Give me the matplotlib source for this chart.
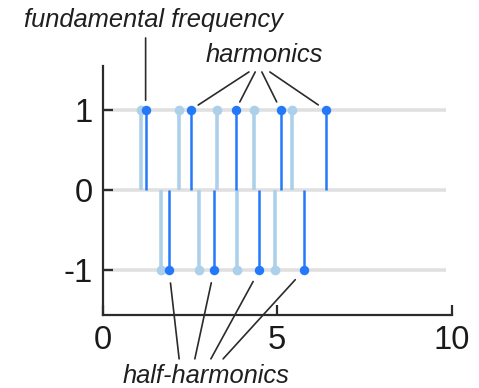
import matplotlib
matplotlib.use("Agg")
import matplotlib.pyplot as plt

# Frequencies of two overlaid tones (light = lower pitch, dark = higher pitch)
light_harmonics = [1.11, 2.19, 3.27, 4.34, 5.43]
dark_harmonics = [1.23, 2.52, 3.81, 5.10, 6.39]
light_half = [1.66, 2.76, 3.86, 4.94]
dark_half = [1.90, 3.19, 4.49, 5.77]

row_levels = [1, 0, -1]
x_ticks = [0, 5, 10]
y_ticks = [-1, 0, 1]

LIGHT = "#acd0ea"
DARK = "#2479fb"
GRAY = "#e0e0e0"
INK = "#2b2b2b"

plt.rcParams["font.family"] = ["Liberation Sans", "DejaVu Sans"]
plt.rcParams["axes.unicode_minus"] = False

fig = plt.figure(figsize=(4.79, 3.88), dpi=100)
ax = fig.add_axes([0.2144, 0.188, 0.7286, 0.642])

# grey reference rows
ax.hlines(row_levels, 0, 9.85, color=GRAY, lw=2.6, zorder=1)


def draw_stems(xs, level, color, lw, ms, z):
    ax.vlines(xs, 0, level, color=color, lw=lw, zorder=z)
    ax.plot(xs, [level] * len(xs), "o", color=color, ms=ms, mec="none", zorder=z + 0.5)


draw_stems(light_harmonics, 1, LIGHT, 2.6, 7, 2)
draw_stems(light_half, -1, LIGHT, 2.6, 7, 2)
draw_stems(dark_harmonics, 1, DARK, 1.8, 6.8, 4)
draw_stems(dark_half, -1, DARK, 1.8, 6.8, 4)

ax.set_xlim(0, 10)
ax.set_ylim(-1.5625, 1.55)
ax.set_xticks(x_ticks)
ax.set_yticks(y_ticks)
ax.spines["top"].set_visible(False)
ax.spines["right"].set_visible(False)
for s in ("left", "bottom"):
    ax.spines[s].set_color(INK)
    ax.spines[s].set_linewidth(1.6)
ax.tick_params(direction="in", length=7, width=1.6, color=INK,
               labelsize=23.5, labelcolor="#1a1a1a", pad=7)

line_kw = dict(arrowstyle="-", color=INK, lw=1.2, shrinkA=0)
ann_kw = dict(xycoords="data", textcoords="data", annotation_clip=False)

# fundamental frequency pointer
ax.annotate("", xy=(dark_harmonics[0], 1), xytext=(dark_harmonics[0], 1.9),
            arrowprops=dict(shrinkB=7, **line_kw), **ann_kw)
ax.text(1.465, 2.0375, "fundamental frequency", style="italic", fontsize=18.4,
        color="#1f1f1f", ha="center", va="baseline", clip_on=False)

# harmonics pointers
harm_tops = [4.19, 4.37, 4.56, 4.79]
for x, xt in zip(dark_harmonics[1:], harm_tops):
    ax.annotate("", xy=(x, 1), xytext=(xt, 1.475),
                arrowprops=dict(shrinkB=6.5, **line_kw), **ann_kw)
ax.text(4.62, 1.60, "harmonics", style="italic", fontsize=18.4,
        color="#1f1f1f", ha="center", va="baseline", clip_on=False)

# half-harmonics pointers
half_ends = [2.19, 2.64, 3.10, 3.45]
for x, xe in zip(dark_half, half_ends):
    ax.annotate("", xy=(x, -1), xytext=(xe, -2.11),
                arrowprops=dict(shrinkB=9.4, **line_kw), **ann_kw)
ax.text(2.96, -2.41, "half-harmonics", style="italic", fontsize=18.4,
        color="#1f1f1f", ha="center", va="baseline", clip_on=False)

fig.savefig("out.png", dpi=100)
